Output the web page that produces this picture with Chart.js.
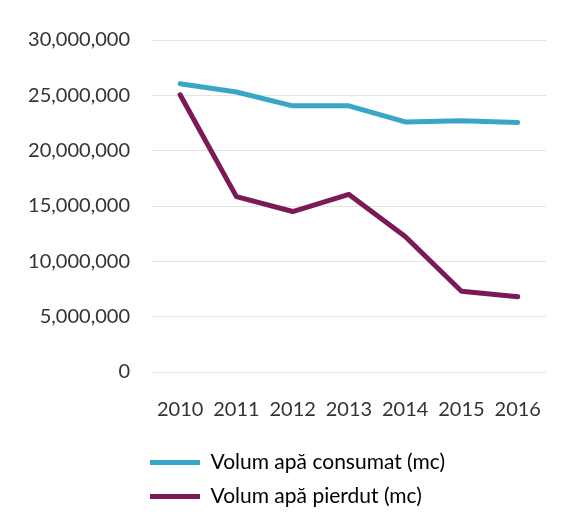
<!DOCTYPE html>
<html>
<head>
<meta charset="utf-8">
<script src="https://cdn.jsdelivr.net/npm/chart.js@4"></script>
<style>
  html, body { margin: 0; padding: 0; background: #fff; }
  #wrap { width: 568px; height: 520px; }
</style>
</head>
<body>
<div id="wrap"><canvas id="waterChart"></canvas></div>
<script>
const years = ['2010', '2011', '2012', '2013', '2014', '2015', '2016'];
const consumed = [26050000, 25300000, 24050000, 24050000, 22600000, 22700000, 22550000];
const lost = [25050000, 15850000, 14500000, 16050000, 12250000, 7300000, 6800000];
const yTicks = [0, 5000000, 10000000, 15000000, 20000000, 25000000, 30000000];

document.addEventListener('DOMContentLoaded', function () {
    createWaterChart();
});

// nudge the legend a bit left of the plot area, like the original
const legendShift = {
    id: 'legendShift',
    afterLayout: function (chart) {
        if (chart.legend) {
            chart.legend.left -= 15;
            chart.legend.right -= 15;
        }
    }
};

function createWaterChart() {
    const ctx = document.getElementById('waterChart').getContext('2d');
    const font = { family: 'Lato', size: 20 };
    new Chart(ctx, {
        type: 'line',
        data: {
            labels: years,
            datasets: [
                {
                    label: 'Volum apă consumat (mc)',
                    data: consumed,
                    borderColor: '#3aa6c6',
                    backgroundColor: '#3aa6c6',
                    borderWidth: 5,
                    pointRadius: 0,
                    borderCapStyle: 'round',
                    borderJoinStyle: 'round',
                    tension: 0
                },
                {
                    label: 'Volum apă pierdut (mc)',
                    data: lost,
                    borderColor: '#7b1a56',
                    backgroundColor: '#7b1a56',
                    borderWidth: 5,
                    pointRadius: 0,
                    borderCapStyle: 'round',
                    borderJoinStyle: 'round',
                    tension: 0
                }
            ]
        },
        options: {
            responsive: true,
            maintainAspectRatio: false,
            animation: false,
            layout: {
                padding: { left: 0, right: 15, top: 40, bottom: 3 }
            },
            plugins: {
                tooltip: { enabled: false },
                legend: {
                    display: true,
                    position: 'bottom',
                    align: 'start',
                    fullSize: false,
                    labels: {
                        color: '#333',
                        font: { family: 'Lato', size: 21 },
                        boxWidth: 50,
                        boxHeight: 5,
                        padding: 13,
                        generateLabels: function (chart) {
                            return chart.data.datasets.map(function (ds, i) {
                                return {
                                    text: ds.label,
                                    fillStyle: ds.borderColor,
                                    strokeStyle: ds.borderColor,
                                    lineWidth: 0,
                                    datasetIndex: i
                                };
                            });
                        }
                    }
                }
            },
            scales: {
                x: {
                    offset: true,
                    grid: { display: false, drawTicks: false },
                    border: { display: false },
                    ticks: { color: '#333', font: font, padding: 26, maxRotation: 0 },
                    afterFit: function (scale) { scale.height = 67; }
                },
                y: {
                    min: 0,
                    max: 30000000,
                    afterBuildTicks: function (scale) {
                        scale.ticks = yTicks.map(v => ({ value: v }));
                    },
                    grid: { color: '#e4e4e4', lineWidth: 1, drawTicks: false },
                    border: { display: false },
                    ticks: {
                        color: '#333',
                        font: font,
                        padding: 22,
                        callback: (value) => value.toLocaleString('en-US')
                    },
                    afterFit: function (scale) { scale.width = 152; }
                }
            }
        },
        plugins: [legendShift]
    });
}
</script>
</body>
</html>
